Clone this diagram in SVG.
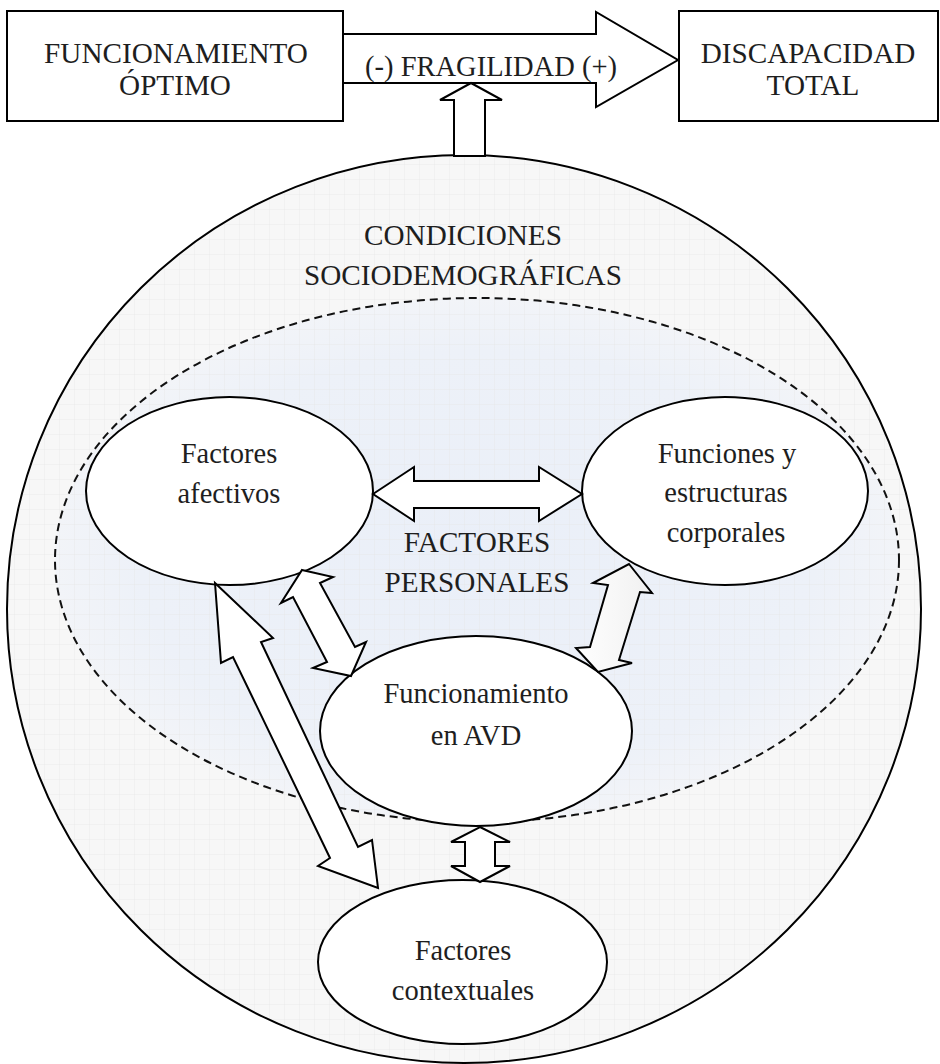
<svg xmlns="http://www.w3.org/2000/svg" width="940" height="1064" viewBox="0 0 940 1064">
<style>
  .t{font-family:"Liberation Serif","Times New Roman",serif;font-size:28.5px;fill:#1e1e1e;text-anchor:middle}
  .c{font-size:29.2px}
  .ln{stroke:#000;stroke-width:2;fill:#fff}
  .arr{stroke:#000;stroke-width:2;fill:#fff;stroke-linejoin:miter}
</style>
<defs>
  <pattern id="grid" width="15" height="15" patternUnits="userSpaceOnUse">
    <path d="M15 0V15M0 15H15" fill="none" stroke="#e6e6e6" stroke-width="0.7"/>
  </pattern>
  <radialGradient id="blue" cx="0.5" cy="0.5" r="0.5">
    <stop offset="0" stop-color="#eaeff8"/>
    <stop offset="0.8" stop-color="#edf1f8"/>
    <stop offset="1" stop-color="#f2f4f8"/>
  </radialGradient>
  <linearGradient id="gry" x1="0" y1="0" x2="1" y2="0">
    <stop offset="0" stop-color="#ffffff"/>
    <stop offset="1" stop-color="#f0f0f0"/>
  </linearGradient>
</defs>
<rect width="940" height="1064" fill="#fff"/>

<g id="condiciones">
  <ellipse cx="464" cy="609" rx="457" ry="454" fill="#f7f7f7"/>
  <ellipse cx="464" cy="609" rx="457" ry="454" fill="url(#grid)" stroke="#000" stroke-width="2"/>
  <text class="t c" x="463" y="245">CONDICIONES</text>
  <text class="t c" x="463" y="285">SOCIODEMOGRÁFICAS</text>
</g>

<g id="personales">
  <ellipse cx="477" cy="560" rx="422" ry="262" fill="url(#blue)"/>
  <ellipse cx="477" cy="560" rx="422" ry="262" fill="url(#grid)" stroke="#111" stroke-width="2" stroke-dasharray="8 5"/>
  <text class="t c" x="477" y="552">FACTORES</text>
  <text class="t c" x="477" y="592">PERSONALES</text>
</g>

<g id="afectivos">
  <ellipse class="ln" cx="229.5" cy="491" rx="143.5" ry="94"/>
  <text class="t" x="229" y="463">Factores</text>
  <text class="t" x="229" y="503">afectivos</text>
</g>

<g id="funciones">
  <ellipse class="ln" cx="725" cy="491" rx="143" ry="94"/>
  <text class="t" x="727" y="463">Funciones y</text>
  <text class="t" x="726" y="502">estructuras</text>
  <text class="t" x="726" y="542">corporales</text>
</g>

<g id="avd">
  <ellipse class="ln" cx="476" cy="731" rx="156" ry="95"/>
  <text class="t" x="476" y="703">Funcionamiento</text>
  <text class="t" x="476" y="745">en AVD</text>
</g>

<g id="contextuales">
  <ellipse class="ln" cx="462.5" cy="962" rx="144.5" ry="82"/>
  <text class="t" x="463" y="960">Factores</text>
  <text class="t" x="463" y="1000">contextuales</text>
</g>

<g id="connectors">
  <polygon class="arr" points="343,34 596,34 596,12 678,60 596,107 596,83 343,83"/>
  <text class="t" x="491" y="76">(-) FRAGILIDAD (+)</text>
  <polygon class="arr" points="471,83 502,100 485,100 485,156 454,156 454,100 440,100"/>
  <polygon class="arr" points="373,494 414,467 414,481 539,481 539,467 582,494 539,521 539,508 414,508 414,521"/>
  <polygon class="arr" points="302,570 333,577 320,583 355,647 366,642 351,676 313,668 327,662 293,597 281,603"/>
  <polygon class="arr" points="215,583 273,638 261,642 358,847 372,840 378,888 318,866 330,858 233,657 221,663"/>
  <polygon class="arr" style="fill:url(#gry)" points="629,564 652,593 640,592 619,660 632,663 598,672 576,648 590,647 608,585 593,583"/>
  <polygon class="arr" points="480,827 510,842 495,842 495,866 510,866 480,882 451,866 465,866 465,842 451,842"/>
</g>

<g id="optimo">
  <rect x="7" y="11" width="336" height="110" fill="#fff" stroke="#000" stroke-width="2"/>
  <text class="t c" x="176" y="63">FUNCIONAMIENTO</text>
  <text class="t c" x="175" y="95">ÓPTIMO</text>
</g>

<g id="discapacidad">
  <rect x="679" y="11" width="259" height="110" fill="#fff" stroke="#000" stroke-width="2"/>
  <text class="t c" x="808" y="63">DISCAPACIDAD</text>
  <text class="t c" x="813" y="95">TOTAL</text>
</g>
</svg>
